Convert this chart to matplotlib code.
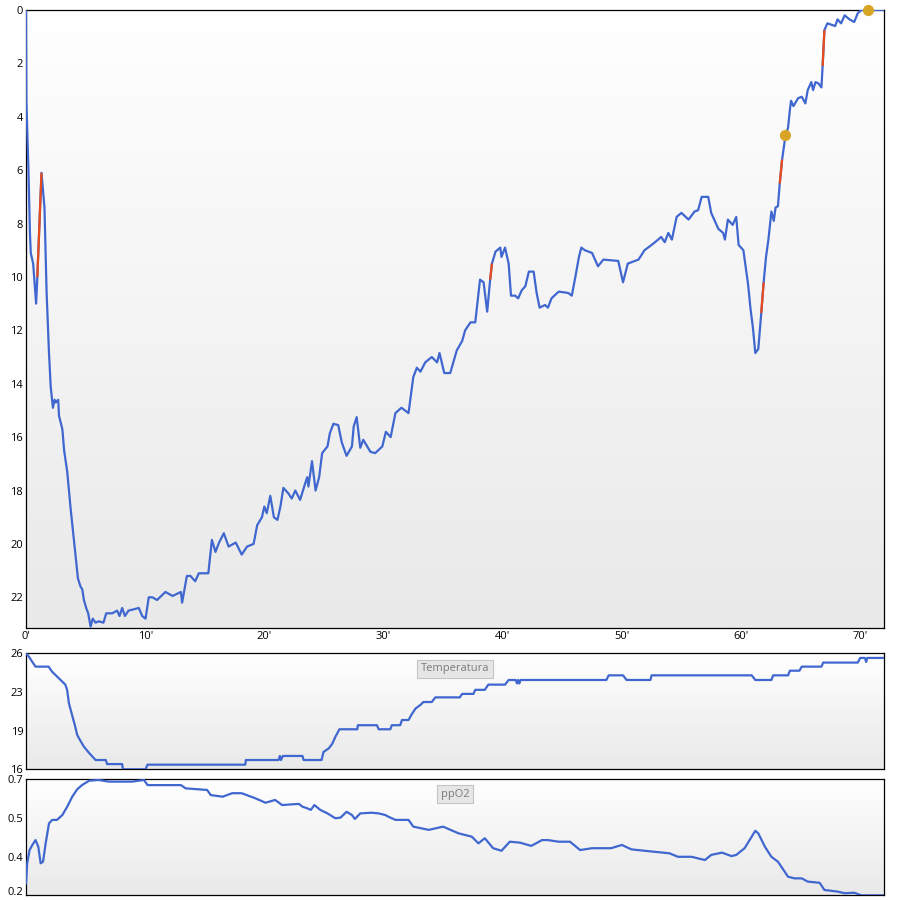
import numpy as np
import matplotlib
matplotlib.use("Agg")
import matplotlib.pyplot as plt
import matplotlib.transforms as mtransforms
from matplotlib.colors import LinearSegmentedColormap

plt.rcParams['font.family'] = ['Open Sans', 'DejaVu Sans']

# ---------------- data ----------------
depth_t = [0, 0.03, 0.2, 0.33, 0.4, 0.6, 0.75, 0.85, 0.95, 1.3, 1.55, 1.73, 1.93, 2.07, 2.26, 2.4, 2.5, 2.7, 2.77,
           3.05, 3.2, 3.46, 3.75, 3.94, 4.1, 4.36, 4.58, 4.72, 4.86, 5.05, 5.22, 5.42, 5.6, 5.84, 6.1, 6.5, 6.73,
           7.23, 7.65, 7.85, 8.07, 8.3, 8.6, 9.47, 9.75, 10.03, 10.3, 10.6, 11.0, 11.7, 12.3, 13.0, 13.1, 13.5,
           13.8, 14.2, 14.5, 14.9, 15.3, 15.6, 15.9, 16.2, 16.6, 17.0, 17.6, 18.1, 18.55, 19.1, 19.4, 19.8, 20.0,
           20.2, 20.5, 20.8, 21.1, 21.35, 21.6, 22.0, 22.3, 22.6, 23.0, 23.45, 23.6, 23.7, 24.0, 24.3, 24.6, 24.85,
           25.3, 25.5, 25.8, 26.2, 26.5, 26.9, 27.35, 27.5, 27.75, 28.05, 28.3, 28.9, 29.3, 29.9, 30.2, 30.6, 31.0,
           31.5, 32.1, 32.5, 32.8, 33.1, 33.5, 34.05, 34.5, 34.7, 35.1, 35.6, 36.15, 36.6, 36.85, 37.3, 37.7, 38.1,
           38.4, 38.7, 38.95, 39.1, 39.4, 39.8, 39.9, 40.2, 40.5, 40.7, 41.05, 41.3, 41.6, 41.9, 42.2, 42.6, 42.85,
           43.1, 43.55, 43.8, 44.1, 44.7, 45.5, 45.8, 46.1, 46.4, 46.6, 46.9, 47.5, 48.0, 48.45, 49.7, 50.1, 50.5,
           51.4, 51.9, 52.5, 53.05, 53.3, 53.6, 53.9, 54.2, 54.6, 55.0, 55.6, 56.1, 56.4, 56.7, 57.25, 57.5, 58.1,
           58.5, 58.65, 58.9, 59.3, 59.6, 59.8, 60.2, 60.6, 60.8, 61.0, 61.2, 61.45, 61.7, 61.9, 62.1, 62.3, 62.55,
           62.75, 62.9, 63.1, 63.25, 63.45, 63.7, 63.95, 64.1, 64.2, 64.4, 64.8, 65.1, 65.4, 65.6, 65.9, 66.05,
           66.25, 66.5, 66.75, 66.85, 67.0, 67.25, 67.9, 68.1, 68.4, 68.7, 69.1, 69.5, 69.8, 70.1, 70.65, 71.9]
depth_m = [0.0, 3.4, 5.9, 8.35, 9.1, 9.5, 10.4, 11.0, 10.0, 6.1, 7.4, 10.6, 12.85, 14.1, 14.9, 14.6, 14.7, 14.6, 15.2,
           15.7, 16.5, 17.3, 18.7, 19.5, 20.2, 21.3, 21.6, 21.7, 22.1, 22.4, 22.6, 23.1, 22.8, 22.95, 22.9, 22.95, 22.6,
           22.6, 22.5, 22.7, 22.4, 22.7, 22.5, 22.4, 22.7, 22.8, 22.0, 22.0, 22.1, 21.8, 21.95, 21.8, 22.2, 21.2,
           21.2, 21.4, 21.1, 21.1, 21.1, 19.85, 20.3, 19.95, 19.6, 20.1, 19.95, 20.4, 20.1, 20.0, 19.3, 19.0, 18.6,
           18.85, 18.2, 19.0, 19.1, 18.6, 17.9, 18.1, 18.3, 18.0, 18.35, 17.7, 17.5, 17.85, 16.9, 18.0, 17.5, 16.6,
           16.35, 15.85, 15.5, 15.55, 16.2, 16.7, 16.35, 15.6, 15.25, 16.4, 16.1, 16.55, 16.6, 16.35, 15.8, 16.0, 15.1,
           14.9, 15.1, 13.75, 13.4, 13.55, 13.2, 13.0, 13.2, 12.85, 13.6, 13.6, 12.75, 12.4, 12.0, 11.7, 11.7, 10.1,
           10.2, 11.3, 10.1, 9.5, 9.05, 8.9, 9.25, 8.9, 9.5, 10.7, 10.7, 10.8, 10.5, 10.35, 9.8, 9.8, 10.6,
           11.15, 11.05, 11.15, 10.8, 10.55, 10.6, 10.7, 10.0, 9.25, 8.9, 9.0, 9.1, 9.6, 9.35, 9.4, 10.2, 9.5,
           9.35, 9.0, 8.8, 8.6, 8.5, 8.7, 8.35, 8.6, 7.75, 7.6, 7.85, 7.55, 7.5, 7.0, 7.0, 7.6, 8.2,
           8.35, 8.6, 7.85, 8.05, 7.75, 8.8, 9.0, 10.3, 11.2, 11.9, 12.85, 12.7, 11.35, 10.2, 9.25, 8.6, 7.55,
           7.9, 7.4, 7.35, 6.5, 5.6, 4.8, 4.4, 3.75, 3.4, 3.6, 3.3, 3.25, 3.5, 3.0, 2.7, 3.0,
           2.7, 2.75, 2.9, 2.1, 0.75, 0.5, 0.6, 0.35, 0.5, 0.2, 0.35, 0.45, 0.12, 0.0, 0.0, 0.0]

# ascent-rate warning spans (minutes)
warn_spans = [(0.95, 1.3), (38.95, 39.1), (61.7, 61.9), (63.25, 63.45), (66.85, 67.0)]
# event markers (minute, depth)
event_t = [63.7, 70.65]
event_d = [4.7, 0.0]

temp_t = [0, 0.25, 0.5, 0.8, 1.9, 2.2, 2.6, 3.05, 3.3, 3.45, 3.6, 3.9, 4.1, 4.3, 4.6, 4.86, 5.3, 5.84, 6.7, 6.8,
          8.07, 8.13, 10.03, 10.2, 18.4, 18.45, 21.2, 21.3, 21.4, 21.55, 23.2, 23.3, 24.8, 24.97, 25.4, 25.7, 25.96,
          26.3, 27.8, 27.85, 29.45, 29.6, 30.57, 30.7, 31.4, 31.55, 32.1, 32.4, 32.7, 33.1, 33.35, 34.05, 34.35,
          36.4, 36.6, 37.55, 37.7, 38.5, 38.8, 40.2, 40.5, 41.1, 41.2, 41.3, 41.4, 41.5, 48.7, 48.9, 50.1, 50.4,
          52.4, 52.5, 60.9, 61.2, 62.55, 62.7, 63.95, 64.1, 64.9, 65.1, 66.75, 66.9, 69.8, 70.0, 70.4, 70.5, 70.6,
          71.9]
temp_c = [26.0, 25.7, 25.3, 24.85, 24.85, 24.4, 24.0, 23.55, 23.3, 22.85, 21.7, 20.55, 19.8, 18.95, 18.4, 17.95, 17.4,
          16.8, 16.8, 16.45, 16.45, 16.0, 16.0, 16.4, 16.4, 16.8, 16.8, 17.15, 16.8, 17.15, 17.15, 16.8, 16.8, 17.5,
          17.8, 18.2, 18.8, 19.45, 19.45, 19.8, 19.8, 19.45, 19.45, 19.8, 19.8, 20.25, 20.25, 20.8, 21.25, 21.55,
          21.8, 21.8, 22.2, 22.2, 22.5, 22.5, 22.85, 22.85, 23.3, 23.3, 23.7, 23.7, 23.4, 23.7, 23.4, 23.7, 23.7,
          24.1, 24.1, 23.7, 23.7, 24.1, 24.1, 23.7, 23.7, 24.1, 24.1, 24.5, 24.5, 24.85, 24.85, 25.2, 25.2, 25.6,
          25.6, 25.25, 25.6, 25.6]

ppo2_t = [0, 0.1, 0.3, 0.53, 0.8, 1.03, 1.23, 1.43, 1.65, 1.93, 2.2, 2.6, 3.05, 3.46, 3.88, 4.3, 4.7, 5.3, 6.1, 6.96,
          7.8, 8.9, 9.9, 10.2, 11.7, 13.0, 13.4, 15.2, 15.5, 16.5, 17.3, 18.1, 19.25, 20.1, 20.9, 21.5, 22.3, 22.9,
          23.2, 23.6, 23.9, 24.2, 24.7, 25.3, 25.96, 26.4, 26.9, 27.35, 27.6, 28.05, 29.0, 29.6, 30.15, 30.4, 31.0,
          32.1, 32.5, 33.8, 35.0, 36.3, 37.4, 37.97, 38.5, 39.2, 39.9, 40.6, 41.45, 42.4, 43.3, 43.8, 44.7, 45.65,
          46.5, 47.5, 49.1, 50.0, 50.8, 51.9, 54.0, 54.7, 55.85, 56.97, 57.5, 58.4, 59.2, 59.6, 60.3, 61.2, 61.45,
          62.0, 62.55, 63.1, 63.95, 64.5, 65.1, 65.6, 66.6, 67.0, 68.1, 68.7, 69.5, 70.1, 71.9]
ppo2_v = [0.252, 0.338, 0.395, 0.417, 0.438, 0.41, 0.338, 0.345, 0.424, 0.51, 0.525, 0.525, 0.546, 0.582, 0.625,
          0.657, 0.675, 0.694, 0.697, 0.69, 0.69, 0.69, 0.697, 0.675, 0.675, 0.675, 0.661, 0.654, 0.632, 0.625,
          0.64, 0.64, 0.618, 0.599, 0.611, 0.589, 0.592, 0.594, 0.582, 0.575, 0.568, 0.589, 0.568, 0.553, 0.532,
          0.535, 0.56, 0.546, 0.529, 0.553, 0.556, 0.553, 0.546, 0.539, 0.525, 0.525, 0.496, 0.482, 0.496, 0.467,
          0.453, 0.424, 0.446, 0.403, 0.392, 0.431, 0.427, 0.413, 0.438, 0.438, 0.431, 0.431, 0.395, 0.403, 0.403,
          0.417, 0.398, 0.392, 0.381, 0.366, 0.366, 0.352, 0.374, 0.384, 0.369, 0.374, 0.403, 0.478, 0.467, 0.41,
          0.366, 0.345, 0.28, 0.273, 0.273, 0.259, 0.254, 0.223, 0.216, 0.209, 0.211, 0.2, 0.2]

x_ticks = [0, 10, 20, 30, 40, 50, 60, 70]
x_labels = ["0'", "10'", "20'", "30'", "40'", "50'", "60'", "70'"]
depth_ticks = [0, 2, 4, 6, 8, 10, 12, 14, 16, 18, 20, 22]
temp_labels = ['16', '19', '23', '26']
ppo2_labels = ['0.2', '0.4', '0.5', '0.7']

assert len(depth_t) == len(depth_m)
assert len(temp_t) == len(temp_c)
assert len(ppo2_t) == len(ppo2_v)

# ---------------- styling ----------------
BLUE = '#3f67cf'
RED = '#e84a1c'
GOLD = '#d8a424'
XMAX = 72.0
grad_cmap = LinearSegmentedColormap.from_list('bg', ['#ffffff', '#e9e9e9'])

fig = plt.figure(figsize=(9, 9), dpi=100)
L, W = 26 / 900, 858 / 900

def px_axes(top, bottom):
    return fig.add_axes([L, 1 - bottom / 900, W, (bottom - top) / 900])

def style(ax):
    g = np.linspace(0, 1, 256).reshape(-1, 1)
    ax.imshow(g, extent=[0, 1, 0, 1], transform=ax.transAxes, aspect='auto',
              cmap=grad_cmap, origin='upper', zorder=0, interpolation='bicubic')
    for s in ax.spines.values():
        s.set_color('black')
        s.set_linewidth(0.9)
    ax.tick_params(length=0, labelsize=8, pad=2, colors='black')

ax_d = px_axes(10, 628)
ax_t = px_axes(653.3, 769.3)
ax_p = px_axes(779.3, 895.3)
for a in (ax_d, ax_t, ax_p):
    style(a)

# depth profile
dt = np.array(depth_t)
dm = np.array(depth_m)
ax_d.plot(dt, dm, color=BLUE, lw=1.6, zorder=3, solid_joinstyle='round')
for a, b in warn_spans:
    m = (dt >= a) & (dt <= b)
    ax_d.plot(dt[m], dm[m], color=RED, lw=1.6, zorder=4, solid_capstyle='butt')
ax_d.plot(event_t, event_d, 'o', color=GOLD, ms=7, zorder=5, clip_on=False, mec=GOLD)
ax_d.set_xlim(0, XMAX)
ax_d.set_ylim(23.15, 0)
ax_d.set_xticks(x_ticks)
ax_d.set_xticklabels(x_labels)
ax_d.set_yticks(depth_ticks)

# temperature
ax_t.plot(temp_t, temp_c, color=BLUE, lw=1.6, zorder=3)
ax_t.set_xlim(0, XMAX)
ax_t.set_ylim(16, 26)
ax_t.set_yticks(np.linspace(16, 26, 4))
ax_t.set_yticklabels(temp_labels)
ax_t.set_xticks([])
ax_t.text(0.5, 0.867, 'Temperatura', transform=ax_t.transAxes, ha='center', va='center',
          fontsize=8, color='#7a7a7a', zorder=6,
          bbox=dict(boxstyle='square,pad=0.3', fc='#e6e6e6', ec='#c4c4c4', lw=0.8))

# ppO2
ax_p.plot(ppo2_t, ppo2_v, color=BLUE, lw=1.6, zorder=3)
ax_p.set_xlim(0, XMAX)
ax_p.set_ylim(0.2, 0.7)
ax_p.set_yticks(np.linspace(0.2, 0.7, 4))
ax_p.set_yticklabels(ppo2_labels)
ax_p.set_xticks([])
ax_p.text(0.5, 0.873, 'ppO2', transform=ax_p.transAxes, ha='center', va='center',
          fontsize=8, color='#7a7a7a', zorder=6,
          bbox=dict(boxstyle='square,pad=0.3', fc='#e6e6e6', ec='#c4c4c4', lw=0.8))

# keep the lowest ppO2 label inside the canvas
lowest = ax_p.get_yticklabels()[0]
lowest.set_transform(lowest.get_transform() +
                     mtransforms.ScaledTranslation(0, 3 / 72, fig.dpi_scale_trans))

fig.savefig('out.png', dpi=100, facecolor='white')
